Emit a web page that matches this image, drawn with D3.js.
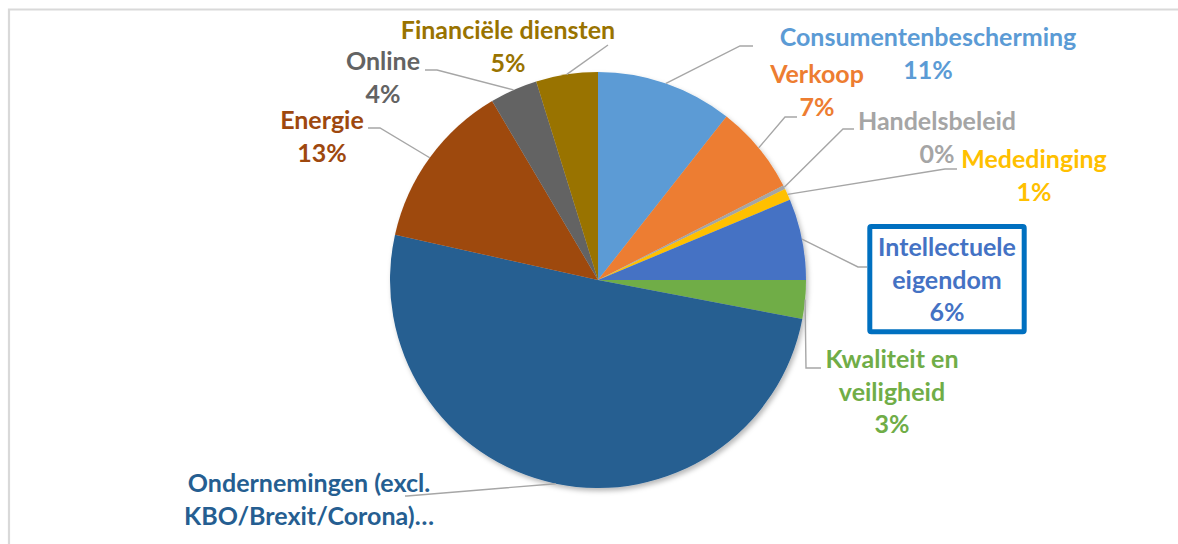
<!DOCTYPE html>
<html>
<head>
<meta charset="utf-8">
<script src="https://cdn.jsdelivr.net/npm/d3@7"></script>
<style>
  html, body { margin: 0; padding: 0; background: #fff; }
  svg { display: block; }
</style>
</head>
<body>
<div class="pie-chart"></div>
<script>
// data (clockwise from 12 o'clock)
const categories = [
  'Consumentenbescherming', 'Verkoop', 'Handelsbeleid', 'Mededinging',
  'Intellectuele eigendom', 'Kwaliteit en veiligheid',
  'Ondernemingen (excl. KBO/Brexit/Corona)', 'Energie', 'Online', 'Financiële diensten'
];
const values = [10.6, 6.9, 0.3, 0.9, 6.3, 3.0, 50.5, 13.0, 3.7, 4.8];
const colors = ['#5B9BD5', '#ED7D31', '#A5A5A5', '#FFC000', '#4472C4', '#70AD47',
  '#255E91', '#9E480E', '#636363', '#997300'];
// label lines as shown in the chart (percentage is added below)
const labelLines = [
  ['Consumentenbescherming'], ['Verkoop'], ['Handelsbeleid'], ['Mededinging'],
  ['Intellectuele', 'eigendom'], ['Kwaliteit en', 'veiligheid'],
  ['Ondernemingen (excl.', 'KBO/Brexit/Corona)…'], ['Energie'], ['Online'], ['Financiële diensten']
];

// layout: label anchor (center x, first baseline) and leader elbow / end
const labelLayout = [
  { x: 928, y: 46, elbow: [740, 46], end: [753, 46] },
  { x: 817, y: 83, elbow: [785, 117], end: [797, 117] },
  { x: 937, y: 130, elbow: [843, 129], end: [854, 129] },
  { x: 1034, y: 168, elbow: [945, 169], end: [957, 169] },
  { x: 947, y: 256, elbow: [858, 267], end: [867, 267], box: true },
  { x: 892, y: 368, elbow: [806, 368], end: [821, 368] },
  { x: 309, y: 492, elbow: [407, 496], end: [405, 496], cut: true },
  { x: 322, y: 129, elbow: [380, 128], end: [368, 128] },
  { x: 383, y: 70, elbow: [437, 70], end: [425, 70] },
  { x: 508, y: 39, elbow: [608, 45], end: [608, 45] }
];

const width = 1178, height = 544;
const cx = 598, cy = 280, radius = 208;
const lineHeight = 32.5;

const data = categories.map((c, i) => ({ label: c, value: values[i], color: colors[i], lines: labelLines[i], layout: labelLayout[i] }));

const svg = d3.select('.pie-chart')
  .append('svg')
  .attr('width', width)
  .attr('height', height);

const shadow = svg.append('defs').append('filter')
  .attr('id', 'shadow')
  .attr('x', '-10%').attr('y', '-10%')
  .attr('width', '120%').attr('height', '120%');
shadow.append('feDropShadow')
  .attr('dx', 2).attr('dy', 3)
  .attr('stdDeviation', 2.5)
  .attr('flood-color', '#000')
  .attr('flood-opacity', 0.28);

// chart area border (top and left visible)
svg.append('path')
  .attr('d', `M9,${height} L9,9.5 L${width},9.5`)
  .attr('fill', 'none')
  .attr('stroke', '#D9D9D9')
  .attr('stroke-width', 2.2);

const g = svg.append('g')
  .attr('transform', `translate(${cx}, ${cy})`);

const pie = d3.pie()
  .value(d => d.value)
  .sort(null);

const arc = d3.arc()
  .innerRadius(0)
  .outerRadius(radius);

const edgeArc = d3.arc()
  .innerRadius(radius)
  .outerRadius(radius);

const arcs = pie(data);

g.append('g')
  .attr('filter', 'url(#shadow)')
  .selectAll('path')
  .data(arcs)
  .join('path')
  .attr('d', arc)
  .attr('fill', d => d.data.color);

// leader lines
svg.append('g')
  .selectAll('polyline')
  .data(arcs)
  .join('polyline')
  .attr('points', d => {
    const [sx, sy] = edgeArc.centroid(d);
    const L = d.data.layout;
    return [[cx + sx, cy + sy], L.elbow, L.end].map(p => p.join(',')).join(' ');
  })
  .attr('fill', 'none')
  .attr('stroke', '#A6A6A6')
  .attr('stroke-width', 1.4);

// highlighted label box
svg.append('rect')
  .attr('x', 869.8).attr('y', 226.5)
  .attr('width', 154.4).attr('height', 105.3)
  .attr('rx', 1.5)
  .attr('fill', '#fff')
  .attr('stroke', '#0070C0')
  .attr('stroke-width', 5);

// labels
const labels = svg.append('g')
  .attr('font-family', 'Lato, "Open Sans", sans-serif')
  .attr('font-weight', 'bold')
  .attr('font-size', '25px')
  .attr('text-anchor', 'middle');

data.forEach(d => {
  const t = labels.append('text')
    .attr('fill', d.color);
  // the Ondernemingen label is cut off, its percentage is not shown
  const shown = d.layout.cut ? d.lines : d.lines.concat([`${Math.round(d.value)}%`]);
  shown.forEach((s, i) => {
    t.append('tspan')
      .attr('x', d.layout.x)
      .attr('y', d.layout.y + i * lineHeight)
      .text(s);
  });
});
</script>
</body>
</html>
